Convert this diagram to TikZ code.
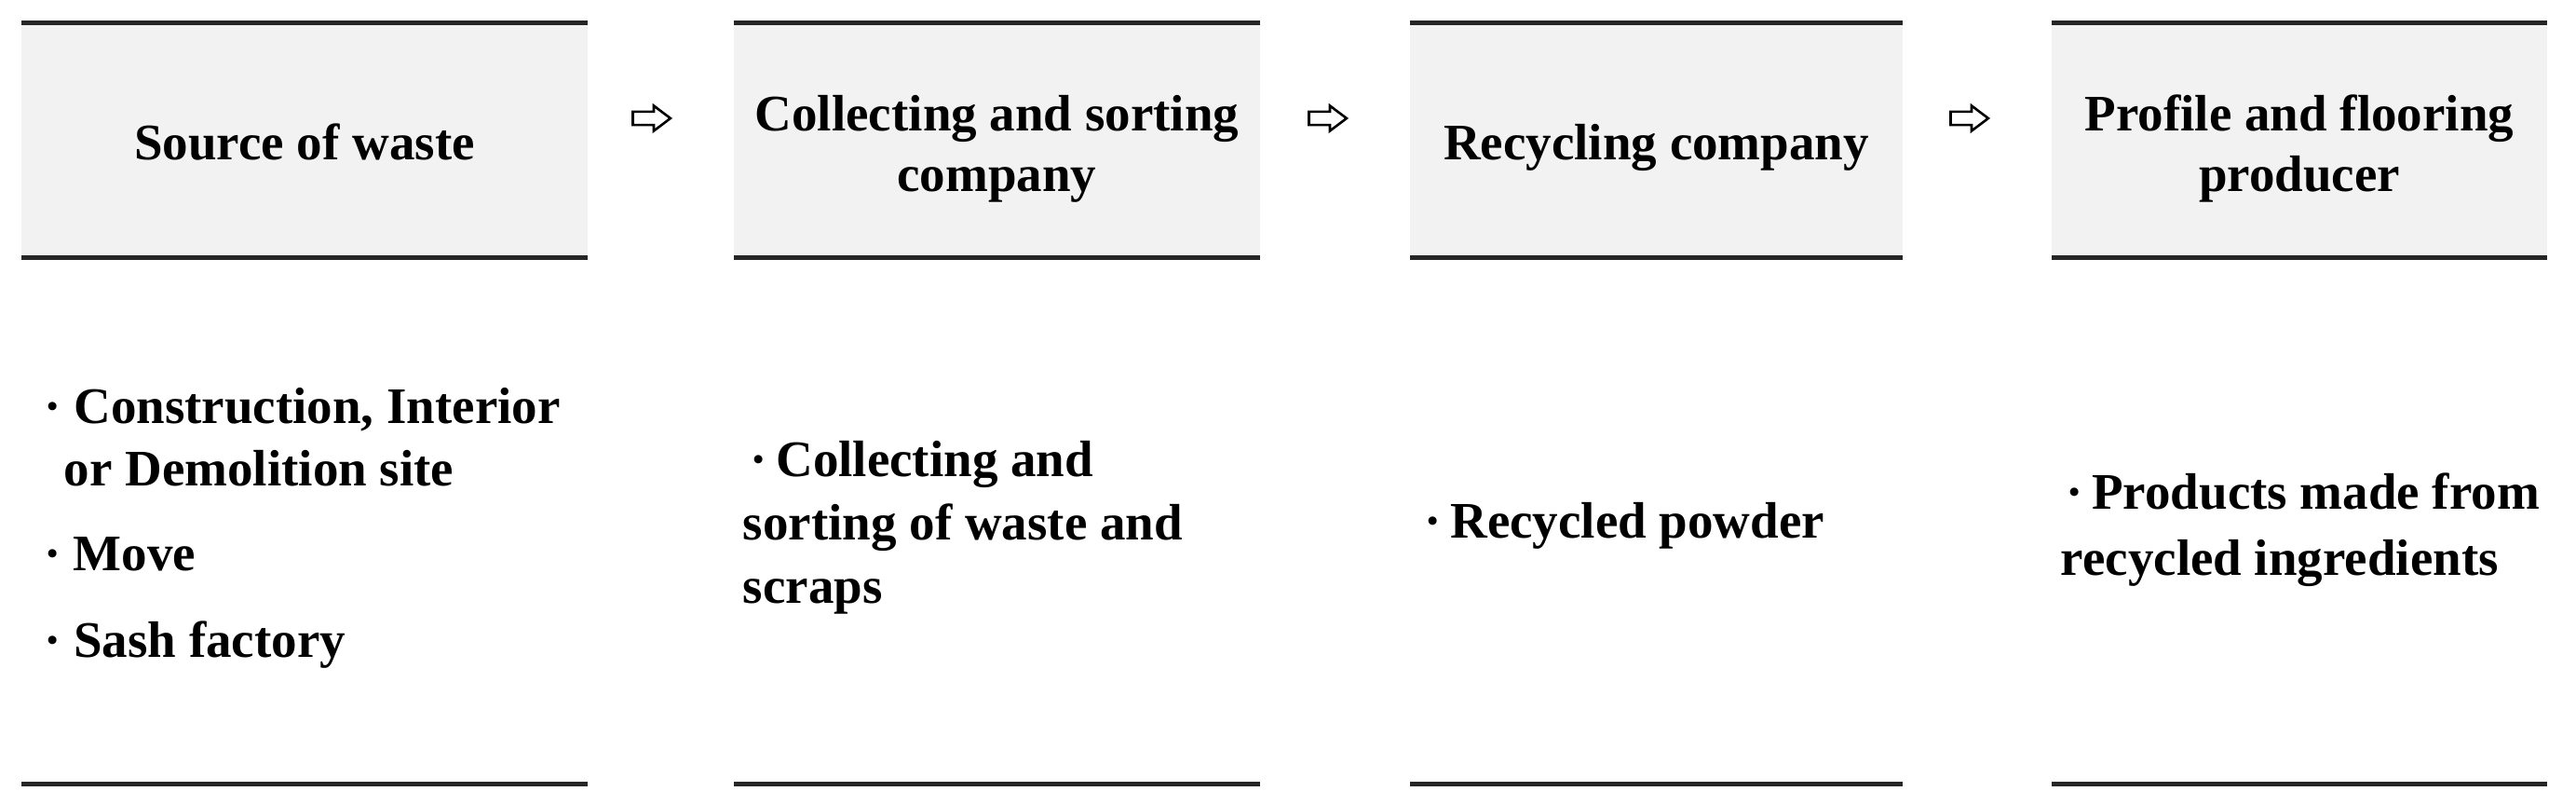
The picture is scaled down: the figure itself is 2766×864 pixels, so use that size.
\documentclass[tikz,border=0pt]{standalone}
\usepackage{fontspec}
\setmainfont{Liberation Serif}
\usetikzlibrary{shapes.arrows}
\definecolor{hdrgray}{HTML}{F2F2F2}
\definecolor{rulecol}{HTML}{262626}
\newcommand\ctrlines[1]{\begin{tabular}[t]{@{}c@{}}#1\end{tabular}}
\newcommand\leftlines[1]{\begin{tabular}[t]{@{}l@{}}#1\end{tabular}}
\begin{document}
\begin{tikzpicture}[x=0.25pt,y=-0.25pt,
  hdrbox/.style={fill=hdrgray, draw=none, minimum height=63pt, inner sep=0pt, outer sep=0pt},
  rule/.style={draw=rulecol, line width=1.25pt},
  title/.style={font=\fontsize{13.75}{16.25}\selectfont\bfseries, inner sep=0pt, anchor=base},
  body/.style={font=\fontsize{13.75}{16.75}\selectfont\bfseries, inner sep=0pt, anchor=base west},
  flow/.style={single arrow, draw=black, fill=white, line width=0.65pt, inner sep=1.45pt,
    minimum height=10.1pt, single arrow head extend=1.6pt, single arrow tip angle=74},
]
\useasboundingbox (0,0) rectangle (2766,864);
\coordinate (bot) at (0,842);

% header boxes
\node[hdrbox, minimum width=152pt]    (box1) at (327,151) {};
\node[hdrbox, minimum width=141.25pt] (box2) at (1070.5,151) {};
\node[hdrbox, minimum width=132.25pt] (box3) at (1778.5,151) {};
\node[hdrbox, minimum width=133pt]    (box4) at (2469,151) {};

\foreach \b in {box1,box2,box3,box4}{
  \draw[rule] (\b.north west) -- (\b.north east);
  \draw[rule] (\b.south west) -- (\b.south east);
  \draw[rule] (\b.west |- bot) -- (\b.east |- bot);
}

% titles
\node[title] (t1) at (327,172) {Source of waste};
\node[title] (t2) at (1070.5,141) {\ctrlines{Collecting and sorting\\company}};
\node[title] (t3) at (1778.5,172) {Recycling company};
\node[title] (t4) at (2469,141) {\ctrlines{Profile and flooring\\producer}};

% arrows
\node[flow] (a1) at (695,127) {};
\node[flow] (a2) at (1421,127) {};
\node[flow] (a3) at (2110,127) {};

% body texts
\node[body] (b1a) at (47,455) {\leftlines{·\hspace{3.3pt}Construction, Interior\\\hspace*{5.25pt}or Demolition site}};
\node[body] (b1b) at (47,613) {·\hspace{3.2pt}Move};
\node[body] (b1c) at (47,706) {·\hspace{3.3pt}Sash factory};
\node[body, font=\fontsize{13.75}{17}\selectfont\bfseries] (b2) at (797,512) {\leftlines{\hspace*{2pt}·\hspace{2.3pt}Collecting and\\sorting of waste and\\scraps}};
\node[body] (b3) at (1529,578) {·\hspace{2.3pt}Recycled powder};
\node[body, font=\fontsize{13.75}{17.75}\selectfont\bfseries] (b4) at (2212,547) {\leftlines{\hspace*{1.5pt}·\hspace{2.3pt}Products made from\\recycled ingredients}};
\end{tikzpicture}
\end{document}
